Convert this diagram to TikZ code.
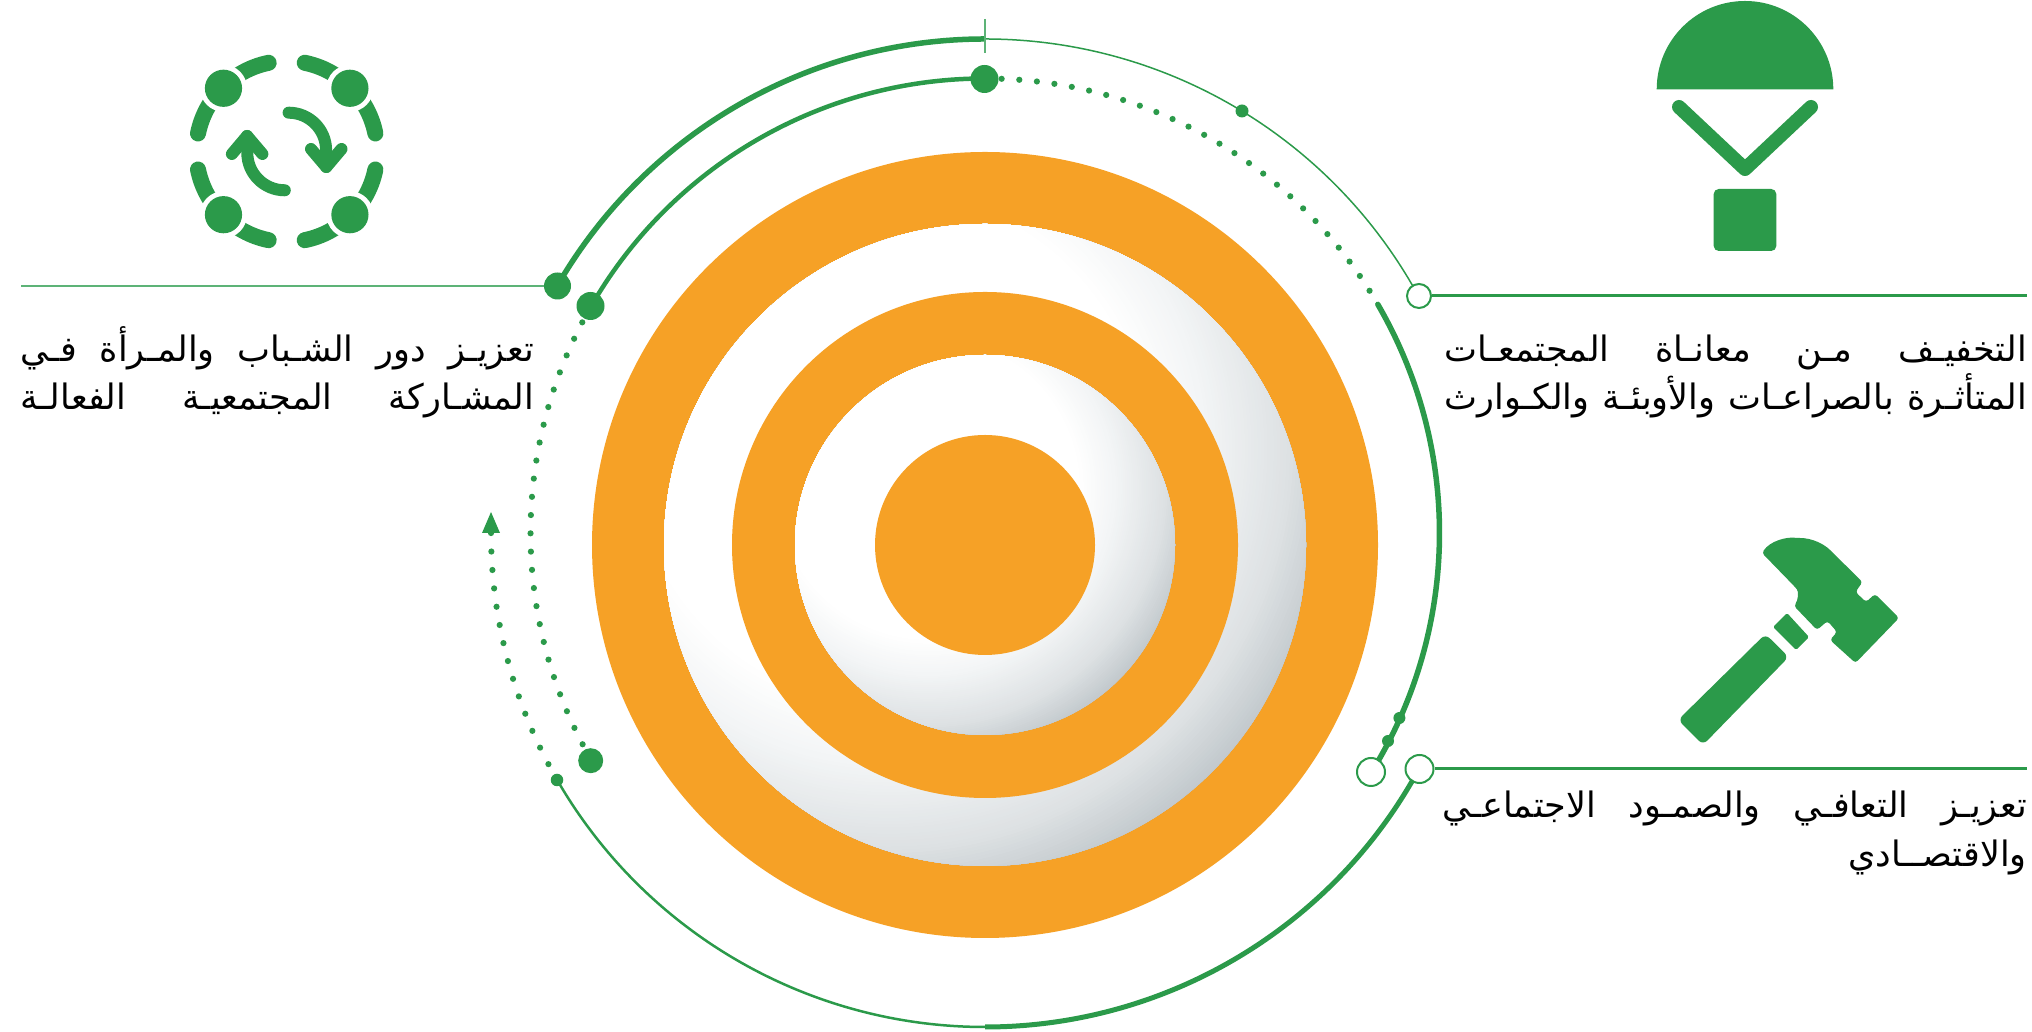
\documentclass[tikz,border=0pt]{standalone}
\usepackage{fontspec}
\newfontfamily\arabicfont[Script=Arabic]{DejaVu Sans}
\TeXXeTstate=1
\definecolor{gr}{HTML}{2B9A4A}
\definecolor{grl}{HTML}{5DB377}
\definecolor{org}{HTML}{F6A126}
\definecolor{sA}{HTML}{F2F4F5}
\definecolor{sB}{HTML}{DDE1E3}
\definecolor{sC}{HTML}{BFC6CA}
\tikzset{
  bigdot/.style={circle,fill=gr,inner sep=0pt,minimum size=#1},
  hollow/.style={circle,draw=gr,line width=2pt,fill=white,inner sep=0pt,minimum size=#1},
  dotarc/.style={gr,line width=6.2pt,line cap=round,dash pattern=on 0pt off #1},
  lineheavy/.style={gr,line width=3pt},
  arctext/.style={anchor=base east,inner sep=0pt,text=black},
  ico/.style={fill=gr,draw=none},
  stroke/.style={gr,line width=#1,line cap=round,line join=round}
}
\newcommand\rarc[4][]{\draw[#1] ([shift={(#3:#2)}]985,533) arc[start angle=#3,end angle=#4,radius=#2];}
\newcommand\arline[2]{\hbox to #1{\arabicfont\fontsize{35}{35}\selectfont\beginR #2\endR}}
% white disc lit from the upper left: concentric bands round an off-centre point
\newcommand\balldisc[1]{%
  \begin{scope}
  \clip (985,487) circle[radius=#1];
  \fill[sC] (985,487) circle[radius=#1+2];
  \foreach \i in {0,...,65}{
    \pgfmathsetmacro\dd{1.45-\i*0.01}
    \pgfmathsetmacro\pp{\dd>1.25 ? 100*(1.45-\dd)/0.2 : (\dd>1.0 ? 100*(1.25-\dd)/0.25 : min(100,100*(1.0-\dd)/0.2))}
    \pgfmathparse{\dd>1.25 ? 2 : (\dd>1.0 ? 1 : 0)}
    \ifnum\pgfmathresult=2 \colorlet{bandc}{sB!\pp!sC}\fi
    \ifnum\pgfmathresult=1 \colorlet{bandc}{sA!\pp!sB}\fi
    \ifnum\pgfmathresult=0 \colorlet{bandc}{white!\pp!sA}\fi
    \fill[bandc] ({985-0.3*#1},{487+0.3*#1}) circle[radius={\dd*#1}];
  }
  \end{scope}}
\begin{document}
\begin{tikzpicture}[x=1pt,y=1pt]
\useasboundingbox (0,0) rectangle (2032,1032);
\fill[org] (985,487) circle[radius=393];
\balldisc{321}
\fill[org] (985,487) circle[radius=253];
\balldisc{190}
\fill[org] (985,487) circle[radius=110];
\begin{scope}[shift={(0,1032)},yscale=-1]
% outer ring
\rarc[gr,line width=5.5pt]{494}{210}{270}
\rarc[gr,line width=1.5pt]{494}{270}{331.4}
\rarc[gr,line width=5pt]{494}{28.5}{90}
\rarc[gr,line width=2.5pt]{494}{90}{150}
\rarc[dotarc=18.5pt]{494}{152.1}{180.2}
% inner ring
\rarc[gr,line width=4.5pt]{454.5}{210}{270}
\rarc[dotarc=17.67pt]{454.5}{272.1}{328}
\rarc[gr,line width=5.5pt,line cap=round]{454.5}{329.8}{391.8}
\rarc[dotarc=18.28pt]{454.5}{152.3}{207.8}
% tick at the top
\coordinate (tickA) at (985,19);
\coordinate (tickB) at (985,53);
\draw[grl,line width=1.5pt] (tickA) -- (tickB);
% arrow end of outer dotted arc
\coordinate (arA) at (491,512);
\coordinate (arB) at (482,533);
\coordinate (arC) at (500,533);
\fill[gr] (arA) -- (arB) -- (arC) -- cycle;
% markers
\node[bigdot=27pt] (nLeft) at (557.5,286) {};
\node[bigdot=28pt] (nLeftIn) at (590.5,306) {};
\node[bigdot=28pt] (nTop) at (984.5,79) {};
\node[bigdot=13pt] (nUp) at (1242,111) {};
\node[bigdot=25pt] (nDot) at (590.7,760.7) {};
\node[bigdot=12.5pt] (nLow) at (557,780) {};
\node[bigdot=12pt] (nA) at (1399.4,718) {};
\node[bigdot=12pt] (nB) at (1388,741) {};
\node[hollow=24pt] (oTop) at (1419,296) {};
\node[hollow=28pt] (oB1) at (1371,772) {};
\node[hollow=28pt] (oB2) at (1419.5,769) {};
% horizontal rules
\coordinate (eL) at (21,286);
\coordinate (eT) at (2027,296);
\coordinate (eB) at (2027,769);
\draw[grl,line width=2pt] (nLeft) -- (eL);
\draw[lineheavy] (oTop) -- (eT);
\draw[lineheavy] (oB2) -- (eB);
% parachute icon
\fill[ico] (1656.7,89.3) arc[start angle=180,end angle=360,radius=88.3] -- cycle;
\draw[stroke=14pt] (1679,107) -- (1745,169) -- (1811,107);
\fill[ico,rounded corners=5pt] (1713.7,189) rectangle (1776.3,251);
% hammer icon
\fill[ico,rounded corners=3pt] (1762,553) .. controls (1770,541) and (1786,537) .. (1797,538)
  .. controls (1812,538) and (1824,544) .. (1832,552) -- (1862.5,582) -- (1855.5,592) -- (1866,602) -- (1875,594)
  -- (1899,618) -- (1855.5,663) -- (1830,640) -- (1837,632) -- (1827.5,621) -- (1817,630) -- (1794,606)
  .. controls (1798,600) and (1799,592) .. (1795,587) -- cycle;
\fill[ico,rounded corners=1.5pt] (1787,613) -- (1809,637) -- (1796,650) -- (1773,627) -- cycle;
\fill[ico,rounded corners=6pt] (1765.4,634) -- (1788.7,657) -- (1703,745) -- (1678,720) -- cycle;
% cycle icon
\begin{scope}[shift={(286.7,151.5)}]
\foreach \q in {0,90,180,270}{
  \draw[stroke=16pt] ({\q+11.5}:90.5) arc[start angle={\q+11.5},end angle={\q+78.5},radius=90.5];
}
\foreach \q in {45,135,225,315}{
  \fill[white] (\q:89.4) circle[radius=23.5];
  \fill[ico] (\q:89.4) circle[radius=18.6];
}
\foreach \r in {0,180}{
\begin{scope}[rotate=\r]
  \draw[stroke=12pt] (1.9,-38.8) arc[start angle=270,end angle=360,radius=37.5] -- (39.6,15.5);
  \draw[stroke=12pt] (24.3,-2.5) -- (39.6,15.5) -- (54.8,-2.5);
\end{scope}}
\end{scope}
% text
\node[arctext] (tA1) at (2027,362) {\arline{582pt}{التخفيـف\hfill مـن\hfill معانـاة\hfill المجتمعـات}};
\node[arctext] (tA2) at (2027,410) {\arline{582pt}{المتأثـرة\hfill بالصراعـات\hfill والأوبئـة\hfill والكـوارث}};
\node[arctext] (tB1) at (2027,818) {\arline{584pt}{تعزيـز\hfill التعافـي\hfill والصمـود\hfill الاجتماعـي}};
\node[arctext] (tB2) at (2027,867) {\arline{199pt}{والاقتصــادي\hfill}};
\node[arctext] (tC1) at (534,362) {\arline{513pt}{تعزيـز\hfill دور\hfill الشـباب\hfill والمـرأة\hfill فـي}};
\node[arctext] (tC2) at (534,410) {\arline{513pt}{المشـاركة\hfill المجتمعيـة\hfill الفعالـة}};
\end{scope}
\end{tikzpicture}
\end{document}
